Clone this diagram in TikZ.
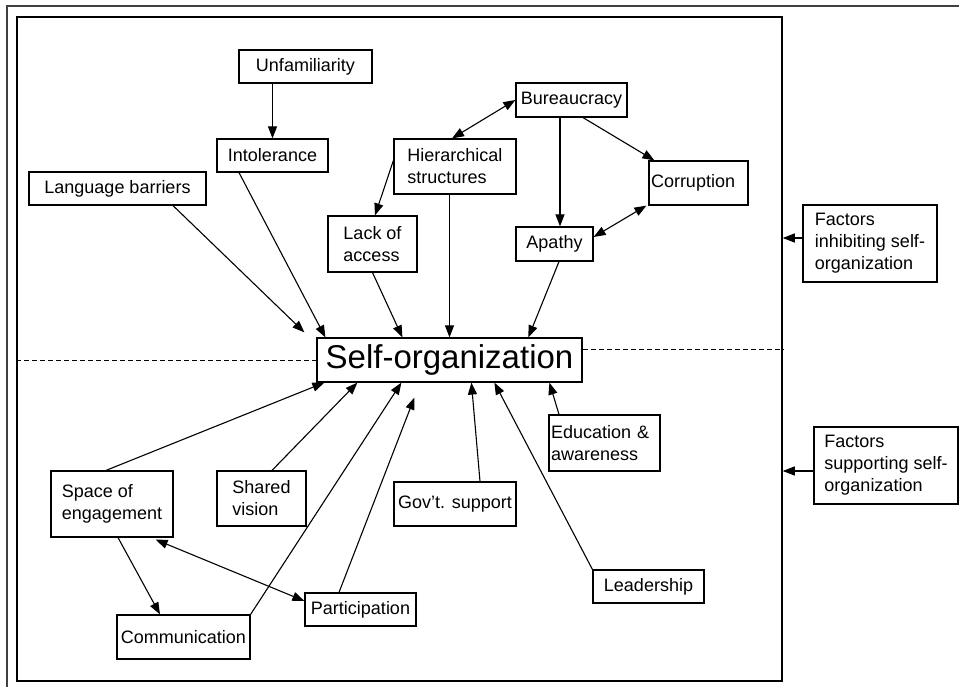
\documentclass[tikz,border=0pt]{standalone}
\usepackage{fontspec}
\setmainfont{Liberation Sans}
\usetikzlibrary{arrows.meta}

\begin{document}
\begin{tikzpicture}[x=1pt,y=-1pt]
\tikzstyle{factor}=[rectangle,draw,line width=1.2pt,align=left,inner sep=2pt,font=\fontsize{18}{22}\selectfont]
\tikzstyle{arr}=[line width=1.1pt,-{Triangle[length=12pt,width=9pt]}]
\tikzstyle{darr}=[line width=1.1pt,{Triangle[length=12pt,width=9pt]}-{Triangle[length=12pt,width=9pt]}]

\useasboundingbox (0,0) rectangle (959,687);

% frames
\draw[line width=1.8pt,black!75] (7,687) -- (7,6) -- (959,6);
\node[draw,line width=1.5pt,minimum width=765pt,minimum height=664pt] (frame) at (399.5,349) {};

% centre
\node[factor,minimum width=265pt,minimum height=44pt,font=\fontsize{33}{36}\selectfont] (so) at (449.5,360) {Self-organization};

% inhibiting factors
\node[factor,minimum width=133pt,minimum height=33pt] (unf) at (305.5,66.5) {Unfamiliarity};
\node[factor,minimum width=111pt,minimum height=33pt] (int) at (272.5,155.5) {Intolerance};
\node[factor,minimum width=177pt,minimum height=33pt] (lang) at (117.5,188.5) {Language barriers};
\node[factor,minimum width=122pt,minimum height=55pt] (hier) at (455,166.5) {Hierarchical\\structures};
\node[factor,minimum width=89pt,minimum height=56pt] (lack) at (372.5,244) {Lack of\\access};
\node[factor,minimum width=111pt,minimum height=34pt] (bur) at (571.5,100) {Bureaucracy};
\node[factor,text width=95pt,minimum height=44pt] (cor) at (698.5,183) {Corruption};
\node[factor,minimum width=77pt,minimum height=34pt] (apa) at (554.5,244) {Apathy};

% supporting factors
\node[factor,minimum width=122pt,minimum height=66pt] (space) at (112,504) {Space of\\engagement};
\node[factor,minimum width=89pt,minimum height=55pt] (shar) at (261.5,498.5) {Shared\\vision};
\node[factor,minimum width=111pt,minimum height=33pt] (part) at (360.5,609.5) {Participation};
\node[factor,minimum width=133pt,minimum height=44pt] (comm) at (183.5,637) {Communication};
\node[factor,minimum width=122pt,minimum height=44pt] (gov) at (455,504) {Gov't. support};
\node[factor,text width=107pt,minimum height=56pt] (edu) at (604.5,443) {Education \&\\awareness};
\node[factor,minimum width=111pt,minimum height=33pt] (lead) at (648.5,586.5) {Leadership};

% legend boxes
\node[factor,minimum width=134pt,minimum height=77pt] (finh) at (870,243.5) {Factors\\inhibiting self-\\organization};
\node[factor,minimum width=144pt,minimum height=77pt] (fsup) at (886,465.5) {Factors\\supporting self-\\organization};

% dividing line
\draw[line width=0.9pt,dash pattern=on 5pt off 3pt] (so.west -| frame.west) -- (so.west);
\draw[line width=0.9pt,dash pattern=on 5pt off 3pt] ([yshift=11pt]so.east) coordinate (soe) -- (soe -| frame.east);

% arrows above
\draw[arr] (int.north |- unf.south) -- (int.north);
\draw[arr] ([xshift=55.5pt]lang.south) -- ([xshift=-12pt,yshift=5pt]so.north west);
\draw[arr] ([xshift=-33.5pt]int.south) -- ([xshift=9pt]so.north west);
\draw[arr] (lack.south) -- ([xshift=86pt]so.north west);
\draw[arr] (so.north |- hier.south) -- (so.north);
\draw[arr] ([xshift=4.5pt]apa.south) -- ([xshift=212pt]so.north west);
\draw[arr] ([yshift=6pt]hier.west) -- ([xshift=2.5pt]lack.north);
\draw[darr] ([xshift=-3pt]hier.north) -- (bur.west);
\draw[arr] ([xshift=-11.5pt]bur.south) -- ([xshift=5.5pt]apa.north);
\draw[arr] ([xshift=11.5pt]bur.south) -- ([xshift=6pt]cor.north west);
\draw[darr] ([yshift=7pt]apa.east) -- ([xshift=-2pt]cor.south west);

% arrows below
\draw[arr] ([xshift=-6pt]space.north) -- ([xshift=8pt]so.south west);
\draw[arr] ([xshift=10.5pt]shar.north) -- ([xshift=41pt]so.south west);
\draw[arr] (comm.north east) -- ([xshift=85pt]so.south west);
\draw[arr] ([xshift=-21.5pt]part.north) -- ([xshift=98pt,yshift=-15pt]so.south west);
\draw[arr] ([xshift=25pt]gov.north) -- ([xshift=155pt]so.south west);
\draw[arr] (lead.north west) -- ([xshift=178pt]so.south west);
\draw[arr] ([xshift=-45.5pt]edu.north) -- ([xshift=233pt]so.south west);
\draw[darr] ([xshift=-18pt,yshift=-2pt]space.south east) -- ([yshift=8.5pt]part.west);
\draw[arr] ([xshift=6pt]space.south) -- ([xshift=-23.5pt]comm.north);

% legend arrows
\draw[arr] ([yshift=5.5pt]finh.west) coordinate (fiw) -- (fiw -| frame.east);
\draw[arr] ([yshift=-5.5pt]fsup.west) coordinate (fsw) -- (fsw -| frame.east);
\end{tikzpicture}
\end{document}
